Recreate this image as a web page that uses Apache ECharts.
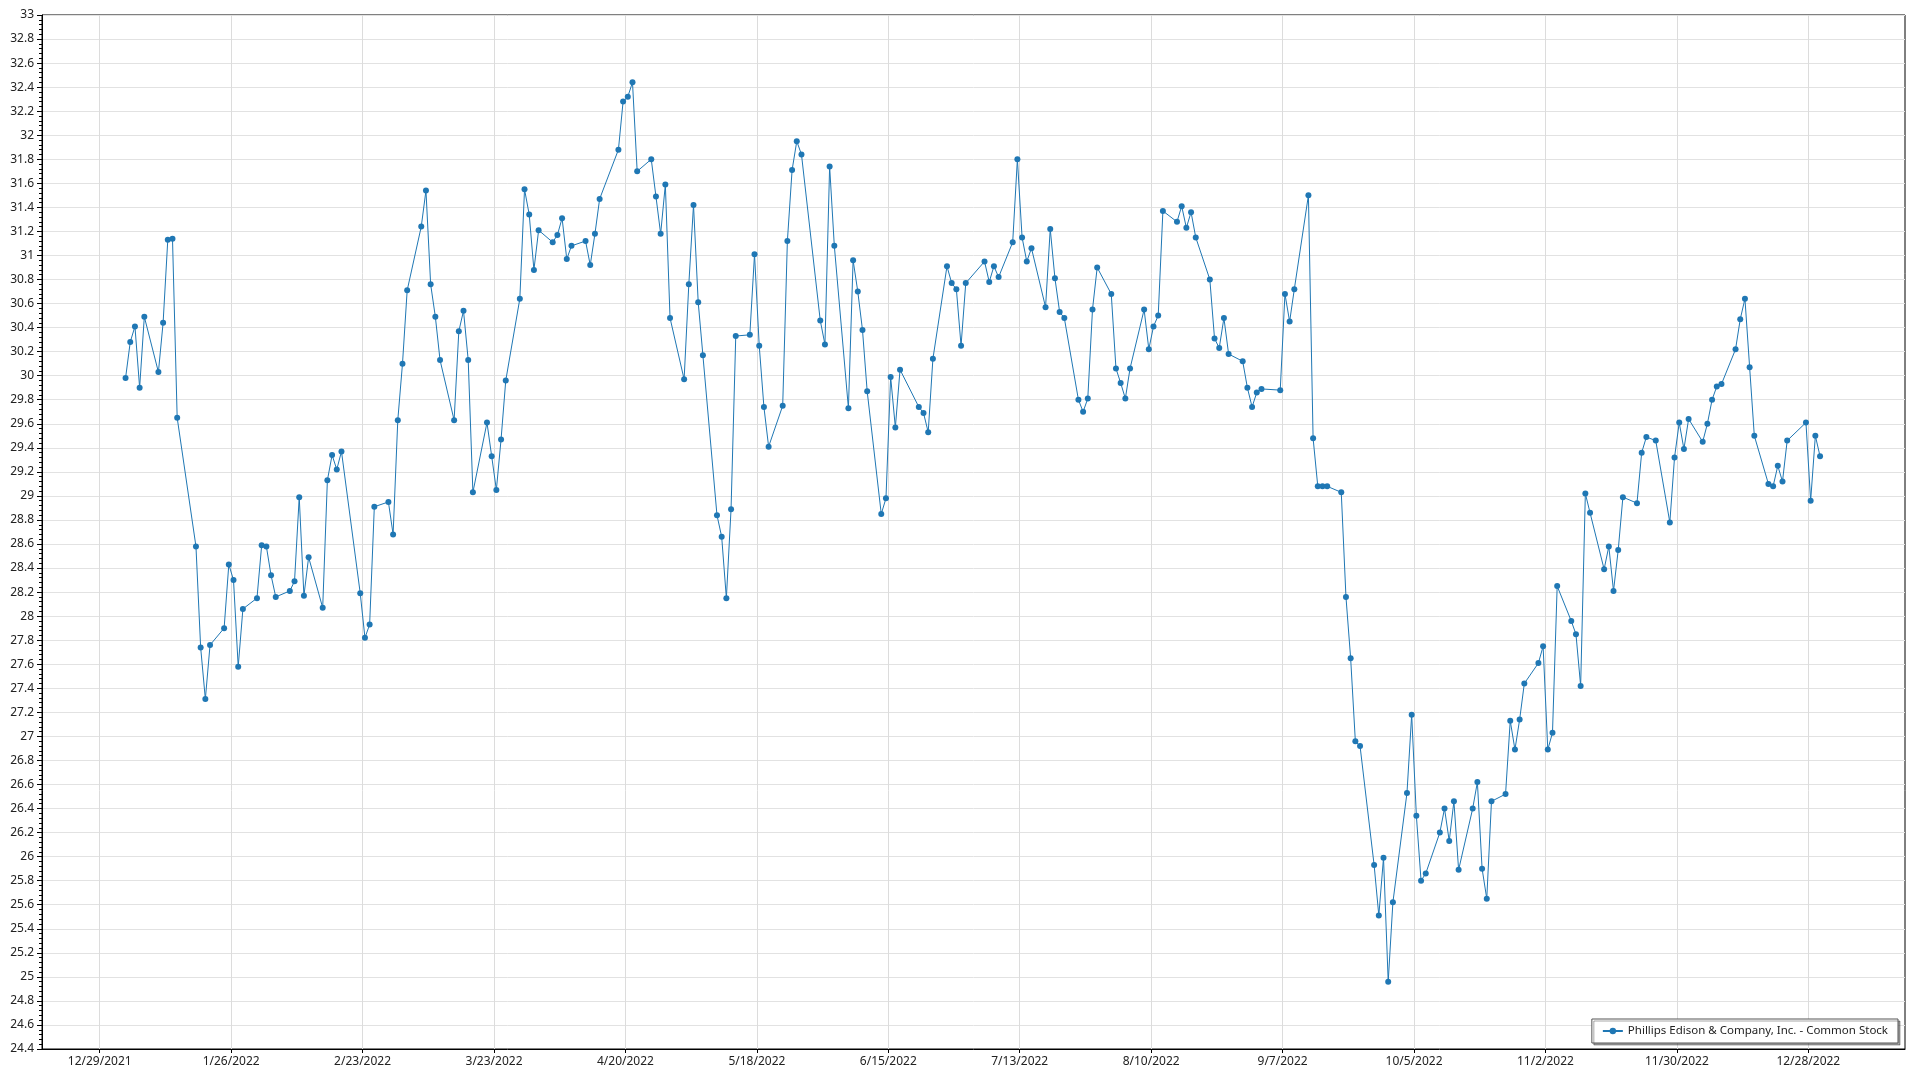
<!DOCTYPE html>
<html>
<head>
<meta charset="utf-8">
<script src="https://cdn.jsdelivr.net/npm/echarts@6/dist/echarts.min.js"></script>
<style>
html,body{margin:0;padding:0;background:#fff;}
#chart{width:1920px;height:1080px;}
</style>
</head>
<body>
<div id="chart"></div>
<script>
// ---- Data ----
const seriesName = 'Phillips Edison & Company, Inc. - Common Stock';

const xTickLabels = ['12/29/2021','1/26/2022','2/23/2022','3/23/2022','4/20/2022','5/18/2022','6/15/2022',
  '7/13/2022','8/10/2022','9/7/2022','10/5/2022','11/2/2022','11/30/2022','12/28/2022'];

// trading dates in 2022 (M/D)
const dates = [
  '1/3','1/4','1/5','1/6','1/7','1/10','1/11','1/12','1/13','1/14','1/18','1/19','1/20','1/21',
  '1/24','1/25','1/26','1/27','1/28','1/31','2/1','2/2','2/3','2/4','2/7','2/8','2/9','2/10','2/11',
  '2/14','2/15','2/16','2/17','2/18','2/22','2/23','2/24','2/25','2/28','3/1','3/2','3/3','3/4',
  '3/7','3/8','3/9','3/10','3/11','3/14','3/15','3/16','3/17','3/18','3/21','3/22','3/23','3/24','3/25',
  '3/28','3/29','3/30','3/31','4/1','4/4','4/5','4/6','4/7','4/8','4/11','4/12','4/13','4/14',
  '4/18','4/19','4/20','4/21','4/22','4/25','4/26','4/27','4/28','4/29','5/2','5/3','5/4','5/5','5/6',
  '5/9','5/10','5/11','5/12','5/13','5/16','5/17','5/18','5/19','5/20','5/23','5/24','5/25','5/26','5/27',
  '5/31','6/1','6/2','6/3','6/6','6/7','6/8','6/9','6/10','6/13','6/14','6/15','6/16','6/17',
  '6/21','6/22','6/23','6/24','6/27','6/28','6/29','6/30','7/1','7/5','7/6','7/7','7/8',
  '7/11','7/12','7/13','7/14','7/15','7/18','7/19','7/20','7/21','7/22','7/25','7/26','7/27','7/28','7/29',
  '8/1','8/2','8/3','8/4','8/5','8/8','8/9','8/10','8/11','8/12','8/15','8/16','8/17','8/18','8/19',
  '8/22','8/23','8/24','8/25','8/26','8/29','8/30','8/31','9/1','9/2','9/6','9/7','9/8','9/9',
  '9/12','9/13','9/14','9/15','9/16','9/19','9/20','9/21','9/22','9/23','9/26','9/27','9/28','9/29','9/30',
  '10/3','10/4','10/5','10/6','10/7','10/10','10/11','10/12','10/13','10/14','10/17','10/18','10/19','10/20','10/21',
  '10/24','10/25','10/26','10/27','10/28','10/31','11/1','11/2','11/3','11/4','11/7','11/8','11/9','11/10','11/11',
  '11/14','11/15','11/16','11/17','11/18','11/21','11/22','11/23','11/25','11/28','11/29','11/30','12/1','12/2',
  '12/5','12/6','12/7','12/8','12/9','12/12','12/13','12/14','12/15','12/16','12/19','12/20','12/21','12/22','12/23',
  '12/27','12/28','12/29','12/30'
];

const prices = [
  29.98,30.28,30.41,29.90,30.49,30.03,30.44,31.13,31.14,29.65,28.58,27.74,27.31,27.76,
  27.90,28.43,28.30,27.58,28.06,28.15,28.59,28.58,28.34,28.16,28.21,28.29,28.99,28.17,28.49,
  28.07,29.13,29.34,29.22,29.37,28.19,27.82,27.93,28.91,28.95,28.68,29.63,30.10,30.71,
  31.24,31.54,30.76,30.49,30.13,29.63,30.37,30.54,30.13,29.03,29.61,29.33,29.05,29.47,29.96,
  30.64,31.55,31.34,30.88,31.21,31.11,31.17,31.31,30.97,31.08,31.12,30.92,31.18,31.47,
  31.88,32.28,32.32,32.44,31.70,31.80,31.49,31.18,31.59,30.48,29.97,30.76,31.42,30.61,30.17,
  28.84,28.66,28.15,28.89,30.33,30.34,31.01,30.25,29.74,29.41,29.75,31.12,31.71,31.95,31.84,
  30.46,30.26,31.74,31.08,29.73,30.96,30.70,30.38,29.87,28.85,28.98,29.99,29.57,30.05,
  29.74,29.69,29.53,30.14,30.91,30.77,30.72,30.25,30.77,30.95,30.78,30.91,30.82,
  31.11,31.80,31.15,30.95,31.06,30.57,31.22,30.81,30.53,30.48,29.80,29.70,29.81,30.55,30.90,
  30.68,30.06,29.94,29.81,30.06,30.55,30.22,30.41,30.50,31.37,31.28,31.41,31.23,31.36,31.15,
  30.80,30.31,30.23,30.48,30.18,30.12,29.90,29.74,29.86,29.89,29.88,30.68,30.45,30.72,
  31.50,29.48,29.08,29.08,29.08,29.03,28.16,27.65,26.96,26.92,25.93,25.51,25.99,24.96,25.62,
  26.53,27.18,26.34,25.80,25.86,26.20,26.40,26.13,26.46,25.89,26.40,26.62,25.90,25.65,26.46,
  26.52,27.13,26.89,27.14,27.44,27.61,27.75,26.89,27.03,28.25,27.96,27.85,27.42,29.02,28.86,
  28.39,28.58,28.21,28.55,28.99,28.94,29.36,29.49,29.46,28.78,29.32,29.61,29.39,29.64,
  29.45,29.60,29.80,29.91,29.93,30.22,30.47,30.64,30.07,29.50,29.10,29.08,29.25,29.12,29.46,
  29.61,28.96,29.50,29.33
];

// ---- helpers ----
const DAY = 86400000;
const BASE = Date.UTC(2021, 11, 29);
function dayOf(m, d, y) { return (Date.UTC(y, m - 1, d) - BASE) / DAY; }
function parseMDY(s) { const p = s.split('/').map(Number); return dayOf(p[0], p[1], p[2]); }
function fmt(v) {
  const dt = new Date(BASE + Math.round(v) * DAY);
  return (dt.getUTCMonth() + 1) + '/' + dt.getUTCDate() + '/' + dt.getUTCFullYear();
}
const tickDays = xTickLabels.map(parseMDY);
const seriesData = dates.map((s, i) => {
  const p = s.split('/').map(Number);
  return [dayOf(p[0], p[1], 2022) + 0.5, prices[i]];
});

const FONT = 'Noto Sans';
const chart = echarts.init(document.getElementById('chart'), null, { renderer: 'canvas' });
chart.setOption({
  animation: false,
  backgroundColor: '#ffffff',
  textStyle: { fontFamily: FONT },
  grid: { left: 42, right: 15, top: 15, bottom: 31, show: true, borderColor: '#000', borderWidth: 1, backgroundColor: 'transparent' },
  xAxis: {
    type: 'value',
    min: -12.3,
    max: 384.6,
    axisLine: { show: true, onZero: false, lineStyle: { color: '#000', width: 1 } },
    axisTick: { show: true, length: 4, lineStyle: { color: '#000' }, customValues: tickDays },
    axisLabel: { customValues: tickDays, formatter: fmt, color: '#222', fontSize: 12, fontFamily: FONT, margin: 7 },
    splitLine: { show: true, lineStyle: { color: '#dcdcdc', width: 1 } },
    minorTick: { show: false }
  },
  yAxis: {
    type: 'value',
    min: 24.4,
    max: 33,
    interval: 0.2,
    axisLine: { show: true, onZero: false, lineStyle: { color: '#000', width: 1 } },
    axisTick: { show: true, length: 5, lineStyle: { color: '#000' } },
    minorTick: { show: true, splitNumber: 5, length: 3, lineStyle: { color: '#000' } },
    axisLabel: { color: '#222', fontSize: 12, fontFamily: FONT, margin: 8 },
    splitLine: { show: true, lineStyle: { color: '#e2e2e2', width: 1 } }
  },
  legend: {
    data: [seriesName],
    right: 22,
    bottom: 37,
    orient: 'horizontal',
    padding: [6, 10],
    itemWidth: 20,
    itemHeight: 8,
    itemGap: 5,
    backgroundColor: '#fff',
    borderColor: '#555',
    borderWidth: 1,
    shadowColor: 'rgba(0,0,0,0.35)',
    shadowOffsetX: 2,
    shadowOffsetY: 2,
    shadowBlur: 0,
    textStyle: { color: '#222', fontSize: 11.5, fontFamily: FONT }
  },
  series: [{
    name: seriesName,
    type: 'line',
    data: seriesData,
    symbol: 'circle',
    symbolSize: 6,
    showSymbol: true,
    lineStyle: { color: '#1f77b4', width: 1 },
    itemStyle: { color: '#1f77b4', borderWidth: 0 },
    emphasis: { disabled: true }
  }]
});
</script>
</body>
</html>
